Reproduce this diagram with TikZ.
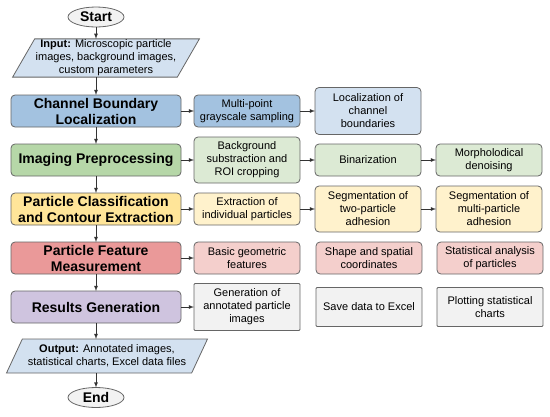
\documentclass[tikz,border=0pt]{standalone}
\usepackage{fontspec}
\setmainfont{Liberation Sans}
\usetikzlibrary{shapes.geometric}

\definecolor{boxline}{HTML}{666666}
\definecolor{arrowline}{HTML}{333333}
\definecolor{blueA}{HTML}{A3C2E0}
\definecolor{blueB}{HTML}{D3E1F0}
\definecolor{greenA}{HTML}{B6D7A8}
\definecolor{greenB}{HTML}{DCEAD4}
\definecolor{yellowA}{HTML}{FFE599}
\definecolor{yellowB}{HTML}{FFF2CC}
\definecolor{redA}{HTML}{EA9999}
\definecolor{redB}{HTML}{F4CFCC}
\definecolor{purpleA}{HTML}{CFC4DF}
\definecolor{grayB}{HTML}{F2F2F2}

\begin{document}
\begin{tikzpicture}[x=1pt,y=-1pt,every node/.style={outer sep=0pt,font=\fontsize{11}{13}\selectfont}]
\tikzstyle{main}=[draw=boxline,line width=0.8pt,rounded corners=4pt,minimum width=170pt,minimum height=32pt,inner sep=1pt,align=center,font=\fontsize{14}{16}\selectfont\bfseries]
\tikzstyle{sub}=[draw=boxline,line width=0.8pt,rounded corners=4pt,minimum width=106pt,minimum height=32pt,inner sep=1pt,align=center]
\tikzstyle{io}=[draw=boxline,line width=0.8pt,trapezium,trapezium stretches body=true,inner sep=1pt,align=center,fill=blueB]
\tikzstyle{term}=[draw=boxline,line width=0.8pt,ellipse,fill=grayB,minimum width=56pt,minimum height=20pt,inner sep=0pt,font=\fontsize{14}{16}\selectfont\bfseries]
\tikzstyle{flow}=[draw=arrowline,line width=0.8pt,-latex]

\useasboundingbox (0,0) rectangle (550,416);

% main column
\node (start) [term] at (96,17) {Start};
\node (input) [io,trapezium left angle=60,trapezium right angle=120,minimum width=186pt,minimum height=38pt] at (106,58) {\textbf{Input:} Microscopic particle\\images, background images,\\custom parameters};
\node (chan) [main,fill=blueA] at (96,111) {Channel Boundary\\Localization};
\node (prep) [main,fill=greenA] at (96,160) {Imaging Preprocessing};
\node (cls) [main,fill=yellowA] at (96,209) {Particle Classification\\and Contour Extraction};
\node (feat) [main,fill=redA] at (96,258) {Particle Feature\\Measurement};
\node (res) [main,fill=purpleA] at (96,307) {Results Generation};
\node (output) [io,trapezium left angle=57,trapezium right angle=123,minimum width=201pt,minimum height=34pt] at (107,356) {\textbf{Output:} Annotated images,\\statistical charts, Excel data files};
\node (end) [term] at (96,397.5) {End};

% channel boundary row
\node (sample) [sub,fill=blueA] at (247,111) {Multi-point\\grayscale sampling};
\node (locate) [sub,fill=blueB,minimum height=47pt] at (368,111) {Localization of\\channel\\boundaries};

% preprocessing row
\node (bgsub) [sub,fill=greenB,minimum height=46pt] at (247,160) {Background\\substraction and\\ROI cropping};
\node (binar) [sub,fill=greenB] at (368,160) {Binarization};
\node (denoise) [sub,fill=greenB] at (489,160) {Morpholodical\\denoising};

% classification row
\node (extract) [sub,fill=yellowB] at (247,209) {Extraction of\\individual particles};
\node (segtwo) [sub,fill=yellowB,minimum height=46pt] at (368,209) {Segmentation of\\two-particle\\adhesion};
\node (segmulti) [sub,fill=yellowB,minimum height=46pt] at (489,209) {Segmentation of\\multi-particle\\adhesion};

% measurement row
\node (basic) [sub,fill=redB] at (247,258) {Basic geometric\\features};
\node (shape) [sub,fill=redB] at (369,258) {Shape and spatial\\coordinates};
\node (stats) [sub,fill=redB] at (490,258) {Statistical analysis\\of particles};

% results row
\node (annot) [sub,fill=grayB,rounded corners=1pt,minimum height=47pt] at (247,307) {Generation of\\annotated particle\\images};
\node (excel) [sub,fill=grayB,rounded corners=1pt,minimum height=39pt] at (369,307) {Save data to Excel};
\node (charts) [sub,fill=grayB,rounded corners=1pt,minimum height=39pt] at (490,307) {Plotting statistical\\charts};

% vertical flow
\draw [flow] (start) -- (start |- input.north);
\draw [flow] (chan |- input.south) -- (chan);
\draw [flow] (chan) -- (prep);
\draw [flow] (prep) -- (cls);
\draw [flow] (cls) -- (feat);
\draw [flow] (feat) -- (res);
\draw [flow] (res) -- (res |- output.north);
\draw [flow] (end |- output.south) -- (end);

% horizontal flow
\draw [flow] (chan) -- (sample);
\draw [flow] (sample) -- (locate);
\draw [flow] (prep) -- (bgsub);
\draw [flow] (bgsub) -- (binar);
\draw [flow] (binar) -- (denoise);
\draw [flow] (cls) -- (extract);
\draw [flow] (extract) -- (segtwo);
\draw [flow] (segtwo) -- (segmulti);
\draw [flow] (feat) -- (basic);
\draw [flow] (res) -- (annot);
\end{tikzpicture}
\end{document}
